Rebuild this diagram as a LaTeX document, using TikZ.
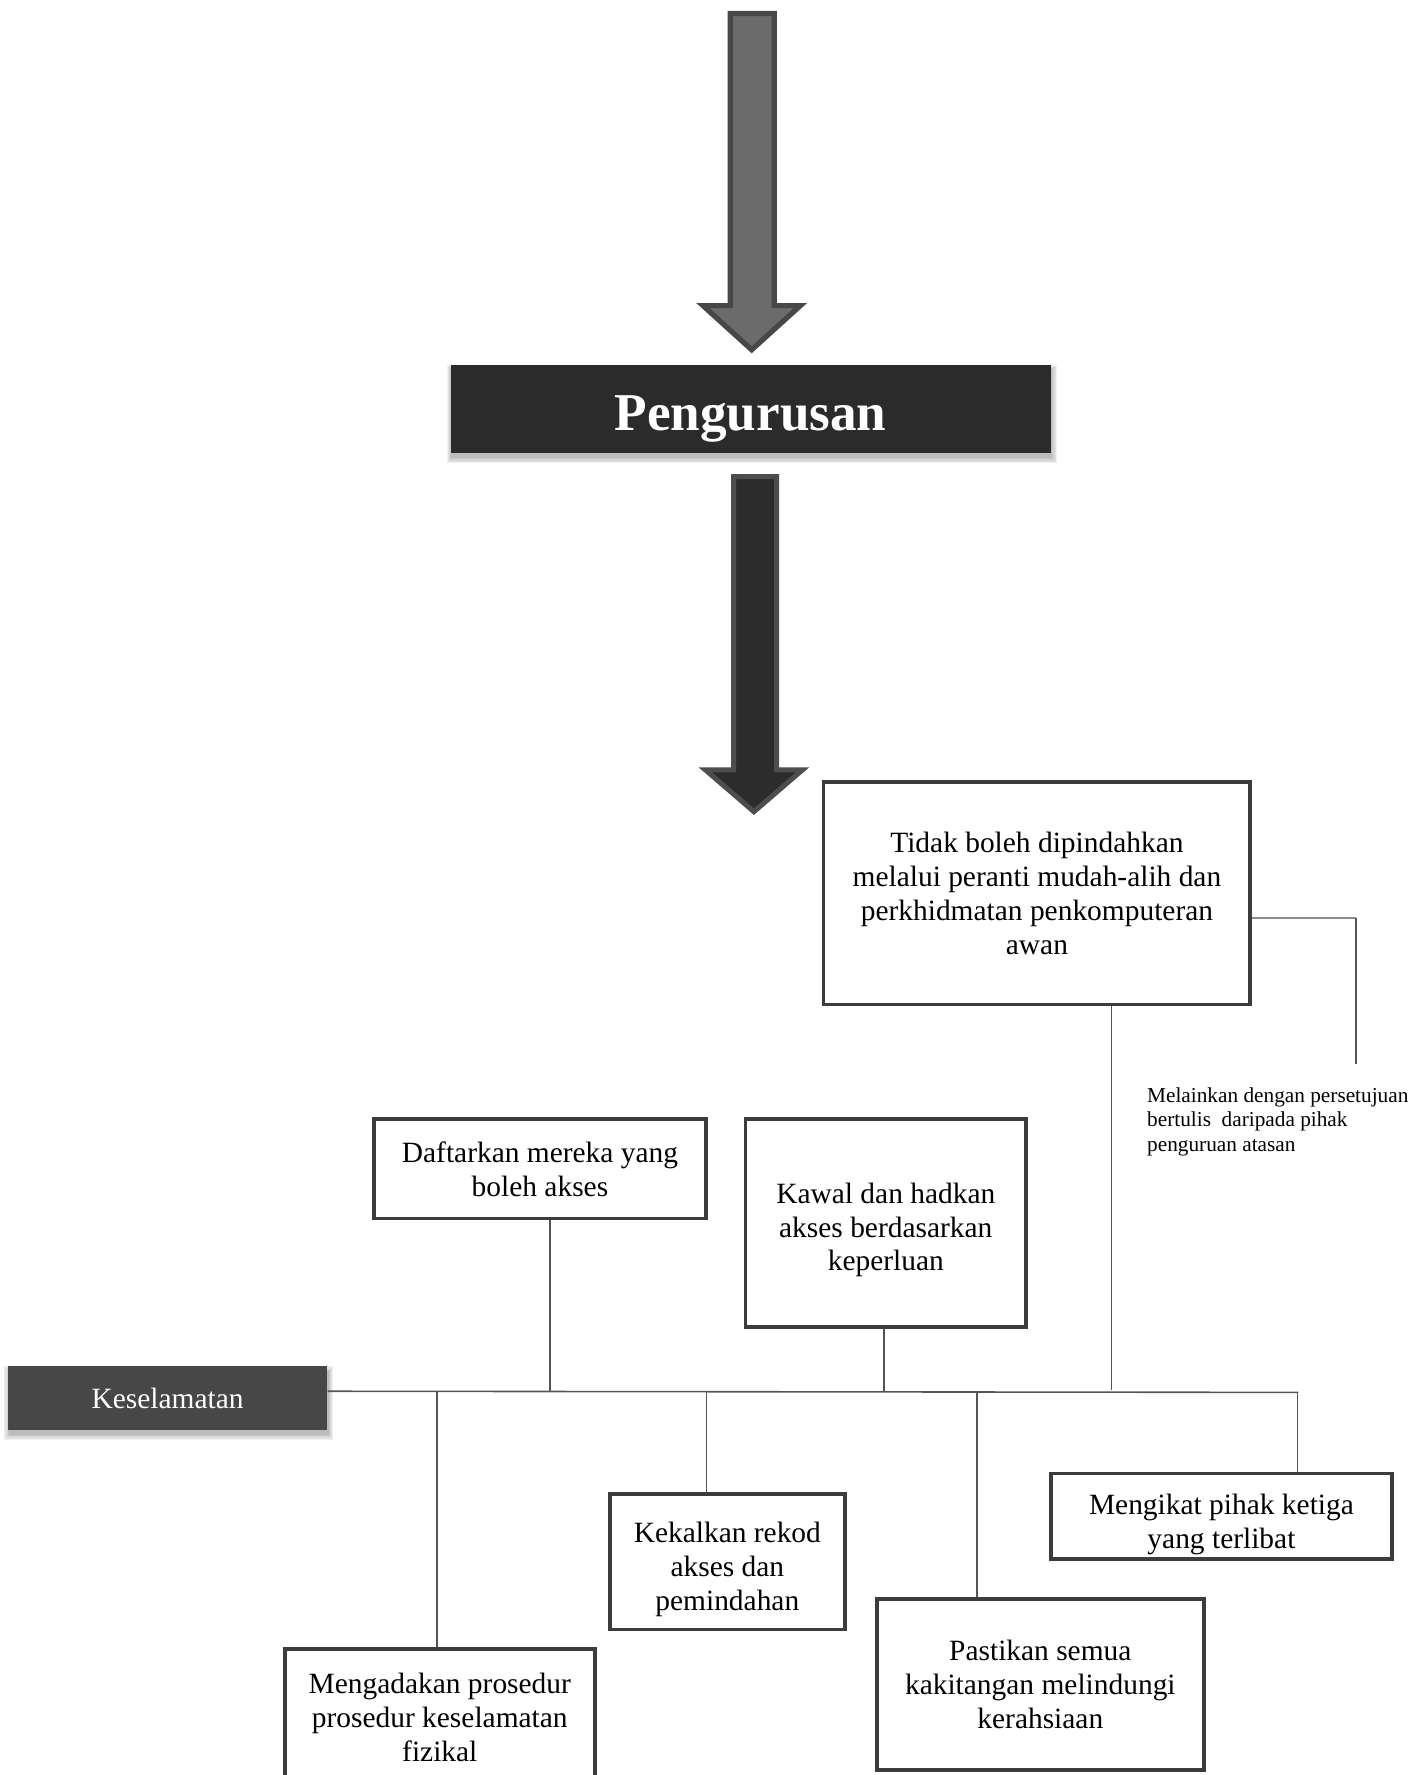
\documentclass[tikz,border=0pt]{standalone}
\usepackage{fontspec}
\setmainfont{Liberation Serif}
\usetikzlibrary{backgrounds}
\definecolor{boxline}{HTML}{3C3C3C}
\definecolor{wirec}{HTML}{555555}
\definecolor{lightwire}{HTML}{8C8C8C}
\definecolor{headfill}{HTML}{2B2B2B}
\definecolor{secfill}{HTML}{474747}
\definecolor{arrowA}{HTML}{6B6B6B}
\definecolor{arrowAline}{HTML}{474747}
\definecolor{arrowB}{HTML}{2C2C2C}
\definecolor{arrowBline}{HTML}{4D4D4D}
\begin{document}
\begin{tikzpicture}[x=0.5pt,y=-0.5pt,
  card/.style={draw=boxline,line width=1.6pt,fill=white,inner sep=0pt,align=center,
    font=\fontsize{13}{15}\selectfont},
  wire/.style={draw=wirec,line width=0.7pt},
  softwire/.style={draw=lightwire,line width=0.7pt},
  banner/.style={fill=headfill,text=white,inner sep=0pt,align=center},
  tag/.style={fill=secfill,text=white,inner sep=0pt,align=center,
    font=\fontsize{13}{15}\selectfont}]
\useasboundingbox (0,0) rectangle (1261,1568);

% block arrows
\draw[fill=arrowA,draw=arrowAline,line width=2.3pt]
  (645,12) -- (684,12) -- (684,270) -- (707,270) -- (664,309) -- (621,270) -- (645,270) -- cycle;
\draw[fill=arrowB,draw=arrowBline,line width=2.2pt]
  (648,421) -- (686,421) -- (686,680) -- (709,680) -- (666,717) -- (623,680) -- (648,680) -- cycle;

% headings
\node[banner,minimum width=265pt,minimum height=39pt,text height=22pt,text depth=2.5pt,
  font=\fontsize{23.5}{28}\selectfont\bfseries] (peng) at (663,361) {Pengurusan};
\node[tag,minimum width=141pt,minimum height=28pt] (kes) at (148,1235) {Keselamatan};

% soft shadows under the headings
\begin{scope}[on background layer]
\foreach \n in {peng,kes}{
  \foreach \d in {0,0.5,1,1.5,2}{
    \fill[black,opacity=0.06]
      ([shift={(0.6pt-\d*1pt,-2.2pt-\d*1pt)}]\n.south west) rectangle
      ([shift={(0.6pt+\d*1pt,-2.2pt+\d*1pt)}]\n.north east);
  }
}
\end{scope}

% boxes
\node[card,minimum width=188.4pt,minimum height=98.4pt] (tidak) at (916,789)
  {Tidak boleh dipindahkan\\melalui peranti mudah-alih dan\\perkhidmatan penkomputeran\\awan};
\node[card,minimum width=146.4pt,minimum height=43.9pt] (daft) at (477,1032.5)
  {Daftarkan mereka yang\\boleh akses};
\node[card,minimum width=123.9pt,minimum height=91.9pt] (kawal) at (782.5,1080.5)
  {\rule{0pt}{15pt}Kawal dan hadkan\\akses berdasarkan\\keperluan};
\node[card,minimum width=136.9pt,minimum height=60.9pt] (prosedur) at (388.5,1517.5)
  {Mengadakan prosedur\\prosedur keselamatan\\fizikal};
\node[card,minimum width=103.9pt,minimum height=59.9pt] (rekod) at (642.5,1379.5)
  {\rule{0pt}{15.5pt}Kekalkan rekod\\akses dan\\pemindahan};
\node[card,minimum width=144.4pt,minimum height=75.4pt] (staf) at (919,1488)
  {Pastikan semua\\kakitangan melindungi\\kerahsiaan};
\node[card,minimum width=150.4pt,minimum height=37.9pt] (ketiga) at (1079,1339.5)
  {\rule{0pt}{16pt}Mengikat pihak ketiga\\yang terlibat};

% side note
\node[anchor=west,align=left,inner sep=0pt,font=\fontsize{9.4}{11}\selectfont] (note) at (1013,991)
  {Melainkan dengan persetujuan\\bertulis~ daripada pihak\\penguruan atasan};

% bus line
\coordinate (busL) at ([yshift=3pt]kes.east);
\coordinate (busR) at (1147,1230);
\draw[wire] (busL) -- (busR);

% branches above the bus
\draw[wire] ([xshift=4.5pt]daft.south) -- ([xshift=4.5pt]daft.south |- busL);
\draw[wire] ([xshift=-0.75pt]kawal.south) -- ([xshift=-0.75pt]kawal.south |- busL);
\draw[wire] ([xshift=33pt]tidak.south) -- ++(0,339);

% branches below the bus
\draw[wire] ([xshift=-1.25pt]prosedur.north) -- ([xshift=-1.25pt]prosedur.north |- busL);
\draw[wire] ([xshift=-9.25pt]rekod.north) -- ([xshift=-9.25pt]rekod.north |- busL);
\draw[wire] ([xshift=-28pt]staf.north) -- ([xshift=-28pt]staf.north |- busL);
\draw[wire] ([xshift=33.5pt]ketiga.north) -- ([xshift=33.5pt]ketiga.north |- busR);

% link to the side note
\coordinate (bend) at (1198,811);
\coordinate (noteend) at (1198,940);
\draw[softwire] ([yshift=-11pt]tidak.east) -- (bend);
\draw[wire] (bend) -- (noteend);
\end{tikzpicture}
\end{document}
